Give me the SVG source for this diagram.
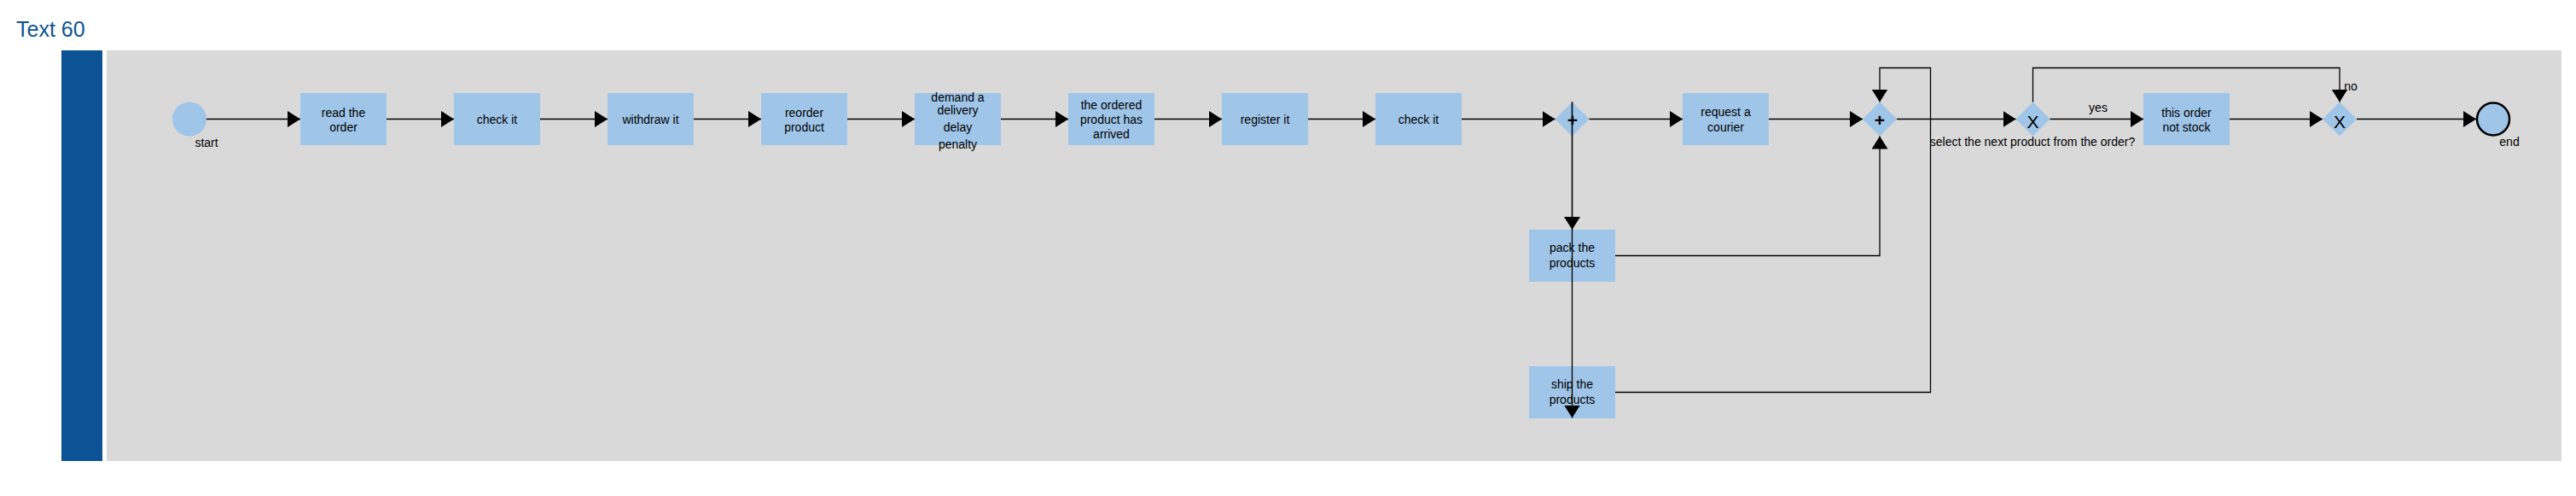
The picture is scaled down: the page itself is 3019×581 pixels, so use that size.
<svg xmlns="http://www.w3.org/2000/svg" width="3019" height="581" viewBox="0 0 3019 581">
<defs>
<style>
.task{fill:#9fc5e8}
.gw{fill:#9fc5e8}
.lbl{font-family:"Liberation Sans",Arial,sans-serif;font-size:14px;fill:#000;text-anchor:middle}
.sym{font-family:"Liberation Sans",Arial,sans-serif;fill:#000;text-anchor:middle}
.edge{fill:none;stroke:#000;stroke-width:1.3;marker-end:url(#arr)}
</style>
<marker id="arr" markerUnits="userSpaceOnUse" markerWidth="16" markerHeight="20" refX="15" refY="9.5" orient="auto">
<path d="M0,0 L15,9.5 L0,19 Z" fill="#000"/>
</marker>
</defs>
<rect width="3019" height="581" fill="#fff"/>
<text x="19" y="43" font-family="'Liberation Sans',Arial,sans-serif" font-size="25" fill="#0b5394">Text 60</text>
<g id="pool">
<rect x="72" y="59" width="48" height="481" fill="#0b5394"/>
<rect x="125" y="59" width="2877" height="481" fill="#d9d9d9"/>
</g>
<g id="start">
<circle cx="222" cy="139.5" r="20" fill="#9fc5e8"/>
<text class="lbl" x="242" y="172">start</text>
</g>
<g id="read-order">
<rect class="task" x="352" y="109" width="101" height="61"/>
<text class="lbl" x="402.5" y="137">read the</text>
<text class="lbl" x="402.5" y="154">order</text>
</g>
<g id="check-it-1">
<rect class="task" x="532" y="109" width="101" height="61"/>
<text class="lbl" x="582.5" y="145">check it</text>
</g>
<g id="withdraw-it">
<rect class="task" x="712" y="109" width="101" height="61"/>
<text class="lbl" x="762.5" y="145">withdraw it</text>
</g>
<g id="reorder-product">
<rect class="task" x="892" y="109" width="101" height="61"/>
<text class="lbl" x="942.5" y="137">reorder</text>
<text class="lbl" x="942.5" y="154">product</text>
</g>
<g id="demand-delivery">
<rect class="task" x="1072" y="109" width="101" height="61"/>
<text class="lbl" x="1122.5" y="119">demand a</text>
<text class="lbl" x="1122.5" y="133.5">delivery</text>
<text class="lbl" x="1122.5" y="154">delay</text>
<text class="lbl" x="1122.5" y="173.5">penalty</text>
</g>
<g id="ordered-arrived">
<rect class="task" x="1252" y="109" width="101" height="61"/>
<text class="lbl" x="1302.5" y="128">the ordered</text>
<text class="lbl" x="1302.5" y="144.5">product has</text>
<text class="lbl" x="1302.5" y="161.5">arrived</text>
</g>
<g id="register-it">
<rect class="task" x="1432" y="109" width="101" height="61"/>
<text class="lbl" x="1482.5" y="145">register it</text>
</g>
<g id="check-it-2">
<rect class="task" x="1612" y="109" width="101" height="61"/>
<text class="lbl" x="1662.5" y="145">check it</text>
</g>
<g id="gateway-split">
<polygon class="gw" points="1842.5,119.5 1862.5,139.5 1842.5,159.5 1822.5,139.5"/>
<text class="sym" x="1843" y="148" font-size="21" font-weight="bold">+</text>
</g>
<g id="request-courier">
<rect class="task" x="1972" y="109" width="101" height="61"/>
<text class="lbl" x="2022.5" y="136">request a</text>
<text class="lbl" x="2022.5" y="154">courier</text>
</g>
<g id="pack-products">
<rect class="task" x="1792" y="269" width="101" height="61"/>
<text class="lbl" x="1842.5" y="295">pack the</text>
<text class="lbl" x="1842.5" y="313">products</text>
</g>
<g id="ship-products">
<rect class="task" x="1792" y="429" width="101" height="61"/>
<text class="lbl" x="1842.5" y="455">ship the</text>
<text class="lbl" x="1842.5" y="473">products</text>
</g>
<g id="gateway-join">
<polygon class="gw" points="2203,119.5 2223,139.5 2203,159.5 2183,139.5"/>
<text class="sym" x="2203" y="148" font-size="21" font-weight="bold">+</text>
</g>
<g id="gateway-next-product">
<polygon class="gw" points="2382.5,119.5 2402.5,139.5 2382.5,159.5 2362.5,139.5"/>
<text class="sym" x="2382.5" y="149.5" font-size="21">X</text>
<text class="lbl" x="2382" y="171">select the next product from the order?</text>
</g>
<g id="not-stock">
<rect class="task" x="2512" y="109" width="101" height="61"/>
<text class="lbl" x="2562.5" y="136.5">this order</text>
<text class="lbl" x="2562.5" y="153.5">not stock</text>
</g>
<g id="gateway-merge">
<polygon class="gw" points="2742,119.5 2762,139.5 2742,159.5 2722,139.5"/>
<text class="sym" x="2742" y="149.5" font-size="21">X</text>
</g>
<g id="end">
<circle cx="2922" cy="139.5" r="19" fill="#9fc5e8" stroke="#000" stroke-width="2.5"/>
<text class="lbl" x="2941" y="171">end</text>
</g>
<g id="connectors">
<path class="edge" d="M242,139.5 H352"/>
<path class="edge" d="M453,139.5 H532"/>
<path class="edge" d="M633,139.5 H712"/>
<path class="edge" d="M813,139.5 H892"/>
<path class="edge" d="M993,139.5 H1072"/>
<path class="edge" d="M1173,139.5 H1252"/>
<path class="edge" d="M1353,139.5 H1432"/>
<path class="edge" d="M1533,139.5 H1612"/>
<path class="edge" d="M1713,139.5 H1822.5"/>
<path class="edge" d="M1862.5,139.5 H1972"/>
<path class="edge" d="M2073,139.5 H2183"/>
<path class="edge" d="M2223,139.5 H2362.5"/>
<path class="edge" d="M2402.5,139.5 H2512"/>
<path class="edge" d="M2613,139.5 H2722"/>
<path class="edge" d="M2762,139.5 H2902"/>
<path class="edge" d="M1842.5,119.5 V269"/>
<path class="edge" d="M1842.5,119.5 V489.5"/>
<path class="edge" d="M1893,299.5 H2203 V159.5"/>
<path class="edge" d="M1893,459.5 H2262.5 V79.5 H2203 V119.5"/>
<path class="edge" d="M2382.5,119.5 V79.5 H2742 V119.5"/>
<text class="lbl" x="2459" y="131">yes</text>
<text class="lbl" x="2755" y="106">no</text>
</g>
</svg>
